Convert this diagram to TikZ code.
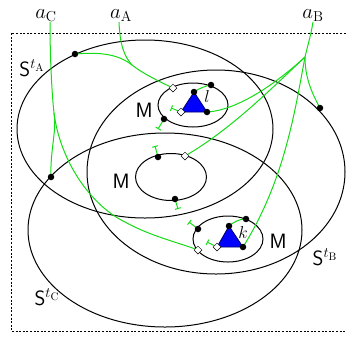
\documentclass[tikz,border=0pt]{standalone}
\usetikzlibrary{arrows.meta,shapes.geometric}
\definecolor{lg}{RGB}{20,220,20}
\definecolor{triblue}{RGB}{0,0,255}
\tikzset{
 ell/.style={draw=black, line width=1pt},
 gl/.style={draw=lg, line width=1pt},
 tick/.style={gl, -{Bar[width=6pt,line width=1pt]}},
 dot/.style={circle, fill=black, inner sep=0pt, minimum size=6.5pt},
 dia/.style={diamond, draw=black, fill=white, inner sep=0pt, minimum size=8pt, line width=0.5pt},
 lab/.style={font=\fontsize{21}{25}\selectfont, inner sep=0pt},
 alab/.style={font=\fontsize{22}{26}\selectfont, inner sep=0pt, anchor=base},
 slab/.style={font=\fontsize{18}{22}\selectfont, inner sep=0pt},
 tri/.style={fill=triblue, draw=black!60!blue, line width=0.8pt, line join=round},
}
\begin{document}
\begin{tikzpicture}[x=1pt,y=-1pt]
\useasboundingbox (0,0) rectangle (347,338);
\draw[line width=0.8pt, dash pattern=on 2pt off 1.6pt] (360,33) -- (11,33) -- (11,331) -- (360,331);
% big ellipses
\draw[ell] (145,129) ellipse [x radius=128, y radius=89];
\draw[ell] (216,172) ellipse [x radius=129, y radius=102];
\draw[ell] (165,230) ellipse [x radius=137, y radius=97];
% inner M ellipses
\draw[ell] (193,105) ellipse [x radius=35, y radius=22];
\draw[ell] (171,177) ellipse [x radius=35.5, y radius=23.5];
\draw[ell] (228,239) ellipse [x radius=35, y radius=23];
% labels
\node[alab] (aC) at (46,18) {$a_{\mathrm{C}}$};
\node[alab] (aA) at (121,18) {$a_{\mathrm{A}}$};
\node[alab] (aB) at (313,18) {$a_{\mathrm{B}}$};
\node[lab] (SA) at (32,68) {$\mathsf{S}^{t_{\mathrm{A}}}$};
\node[lab] (SB) at (325,257) {$\mathsf{S}^{t_{\mathrm{B}}}$};
\node[lab] (SC) at (47,297) {$\mathsf{S}^{t_{\mathrm{C}}}$};
\node[lab] (M1) at (144,110) {$\mathsf{M}$};
\node[lab] (M2) at (121,181) {$\mathsf{M}$};
\node[lab] (M3) at (278,241) {$\mathsf{M}$};
\node[slab] (ll) at (207,96) {$l$};
\node[slab] (kk) at (243,232) {$k$};
% coordinates
\coordinate (aCe) at (50,22);
\coordinate (aAe) at (119,22);
\coordinate (aBe) at (313,22);
\coordinate (mA) at (132,65);
\coordinate (mC) at (54,113);
\coordinate (mB) at (305,57);
\coordinate (lt) at (194,92);
\coordinate (lr) at (207,112);
\coordinate (lb) at (181,112);
\coordinate (kt) at (229,226);
\coordinate (kr) at (243,247);
\coordinate (kb) at (217,247);
\coordinate (pA) at (75,54);
\coordinate (pB) at (320,108);
\coordinate (pC) at (51,177);
\coordinate (p1) at (211,85);
\coordinate (p2) at (164,119);
\coordinate (p5) at (158,157);
\coordinate (p6) at (175,199);
\coordinate (p7) at (198,229);
\coordinate (p8) at (246,219);
\coordinate (q1) at (173,88);
\coordinate (q3) at (185,156);
\coordinate (q4) at (198,250);
\coordinate (t2) at (158,129);
\coordinate (tl) at (171,108);
\coordinate (t5) at (155,146);
\coordinate (t6) at (178,209);
\coordinate (t7) at (189,222);
\coordinate (tk) at (207,242);
% green connectors
\draw[gl] (aAe) .. controls (120,45) and (124,56) .. (mA);
\draw[gl] (pA) .. controls (100,52) and (118,54) .. (mA);
\draw[gl] (mA) .. controls (142,73) and (160,82) .. (q1);
\draw[gl] (aCe) .. controls (50,60) and (52,95) .. (mC);
\draw[gl] (mC) .. controls (57,130) and (50,150) .. (pC);
\draw[gl] (mC) .. controls (60,160) and (90,205) .. (125,222) .. controls (150,236) and (180,243) .. (q4);
\draw[gl] (aBe) .. controls (311,35) and (307,48) .. (mB);
\draw[gl] (mB) .. controls (305,75) and (310,90) .. (pB);
\draw[gl] (mB) .. controls (280,80) and (240,110) .. (lr);
\draw[gl] (mB) .. controls (270,90) and (230,130) .. (q3);
\draw[gl] (mB) .. controls (295,110) and (285,180) .. (kr);
\draw[gl] (lt) .. controls (200,88) and (205,86) .. (p1);
\draw[gl] (kt) .. controls (235,221) and (240,219) .. (p8);
% ticks
\draw[tick] (p2) -- (t2);
\draw[tick] (lb) -- (tl);
\draw[tick] (p5) -- (t5);
\draw[tick] (p6) -- (t6);
\draw[tick] (p7) -- (t7);
\draw[tick] (kb) -- (tk);
% triangles
\draw[tri] (lt) -- (lr) -- (lb) -- cycle;
\draw[tri] (kt) -- (kr) -- (kb) -- cycle;
% dots
\foreach \p in {pA,pB,pC,p1,p2,lt,lr,p5,p6,p7,p8,kt,kr}
  \node[dot] at (\p) {};
% diamonds
\foreach \p in {q1,lb,q3,q4,kb}
  \node[dia] at (\p) {};
\end{tikzpicture}
\end{document}
